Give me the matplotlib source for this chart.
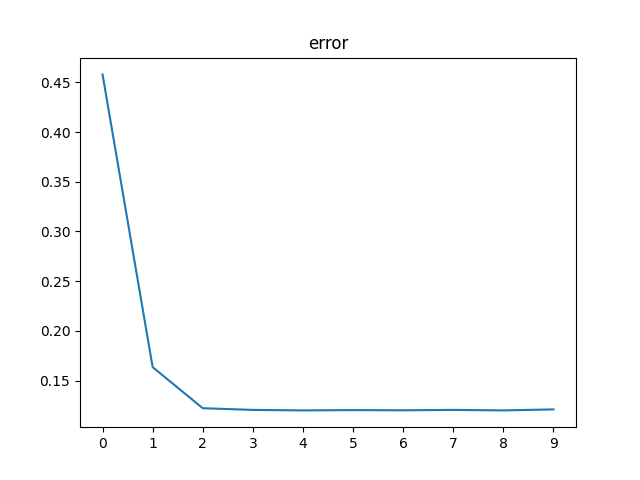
import matplotlib
matplotlib.use("Agg")
import matplotlib.pyplot as plt

epochs = list(range(10))
error = [0.458, 0.1635, 0.1222, 0.1205, 0.1200, 0.1203, 0.1201, 0.1205, 0.1200, 0.1210]

fig, ax = plt.subplots(figsize=(6.4, 4.8), dpi=100)
ax.plot(epochs, error)
ax.set_title("error")
ax.set_xticks(epochs)
fig.savefig("out.png")
